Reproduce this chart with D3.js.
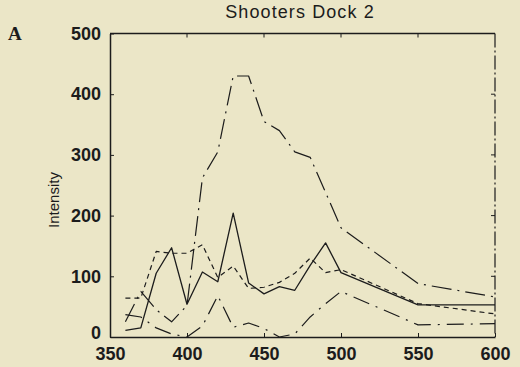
<!DOCTYPE html>
<html>
<head>
<meta charset="utf-8">
<script src="https://cdn.jsdelivr.net/npm/d3@7"></script>
<style>
  body { margin: 0; background: #ebe6c7; }
  svg { display: block; }
  .tick text { font-family: Arial, "Liberation Sans", sans-serif; font-size: 18px; font-weight: bold; fill: #1c1c1c; }
</style>
</head>
<body>
<svg id="chart" width="520" height="367"></svg>
<script>
// wavelengths (nm)
const wl = [360, 370, 380, 390, 400, 410, 420, 430, 440, 450, 460, 470, 480, 490, 500, 550, 600]

// series (null = no point there)
const solid    = [11, 15, 105, 147, 54, 107, 91, 204, 89, 71, 83, 77, 118, 155, 106, 53, 53]
const shortDash = [64, 64, 141, 138, 138, 152, 98, 117, 80, 82, 90, 105, 130, 106, 111, 55, 38]
const bigDashDot = [25, 75, 45, 25, 52, 262, 305, 430, 430, 355, 340, 305, 296, null, 180, 88, 66]
const lowDashDot = [37, 33, 15, 5, 0, 18, 68, 16, 23, 14, 0, 5, 33, 55, 75, 20, 22]

const xTicks = [350, 400, 450, 500, 550, 600]
const yTicks = [0, 100, 200, 300, 400, 500]

const svg = d3.select('#chart')
const mLeft = 110, mRight = 495, mTop = 33.5, mBottom = 337

const x = d3.scaleLinear().domain([350, 600]).range([mLeft, mRight])
const y = d3.scaleLinear().domain([0, 500]).range([mBottom, mTop])

const ink = '#1c1c1c'

// box
svg.append('line').attr('x1', mLeft).attr('x2', mRight).attr('y1', mTop).attr('y2', mTop)
    .attr('stroke', ink).attr('stroke-width', 1.3)
svg.append('line').attr('x1', mRight).attr('x2', mRight).attr('y1', mTop).attr('y2', mBottom)
    .attr('stroke', ink).attr('stroke-width', 1.2).attr('stroke-dasharray', '14,3,2,3')

// axes, ticks inward like the original
const xAxis = svg.append('g').attr('transform', `translate(0,${mBottom})`)
    .call(d3.axisBottom(x).tickValues(xTicks).tickSize(-4).tickPadding(10).tickSizeOuter(0))
const yAxis = svg.append('g').attr('transform', `translate(${mLeft},0)`)
    .call(d3.axisLeft(y).tickValues(yTicks).tickSize(-4).tickPadding(9).tickSizeOuter(0))
;[xAxis, yAxis].forEach(a => {
    a.select('.domain').attr('stroke', ink).attr('stroke-width', 1.5)
    a.selectAll('.tick line').attr('stroke', ink)
})
yAxis.selectAll('.tick text').filter(d => d === 0).attr('dy', '0.1em')

// top and right inner ticks
svg.append('g').selectAll('line').data(xTicks.slice(1, -1)).join('line')
    .attr('x1', d => x(d)).attr('x2', d => x(d)).attr('y1', mTop).attr('y2', mTop + 4)
    .attr('stroke', ink)
svg.append('g').selectAll('line').data(yTicks.slice(1, -1)).join('line')
    .attr('x1', mRight).attr('x2', mRight - 4).attr('y1', d => y(d)).attr('y2', d => y(d))
    .attr('stroke', ink)

const series = [
    { vals: bigDashDot, dash: '20,6,2,6', w: 1.2 },
    { vals: lowDashDot, dash: '17,7,2,7', w: 1.2 },
    { vals: shortDash, dash: '5,4', w: 1.2 },
    { vals: solid, dash: null, w: 1.3 }
]

const line = d3.line()
    .x(d => x(d[0]))
    .y(d => y(d[1]))

series.forEach(s => {
    const pts = wl.map((w, i) => [w, s.vals[i]]).filter(d => d[1] != null)
    svg.append('path')
        .attr('d', line(pts))
        .attr('fill', 'none')
        .attr('stroke', ink)
        .attr('stroke-width', s.w)
        .attr('stroke-linejoin', 'round')
        .attr('stroke-dasharray', s.dash)
})

// texts
svg.append('text').attr('x', 300).attr('y', 18).attr('text-anchor', 'middle')
    .attr('font-family', 'Arial, "Liberation Sans", sans-serif').attr('font-size', 18)
    .attr('letter-spacing', 1.1)
    .attr('fill', ink).text('Shooters Dock 2')

svg.append('text').attr('x', 8).attr('y', 40)
    .attr('font-family', '"Liberation Serif", "Times New Roman", serif').attr('font-size', 19)
    .attr('font-weight', 'bold').attr('fill', ink).text('A')

svg.append('text').attr('transform', 'translate(59,200) rotate(-90)').attr('text-anchor', 'middle')
    .attr('font-family', 'Arial, "Liberation Sans", sans-serif').attr('font-size', 15)
    .attr('fill', ink).text('Intensity')
</script>
</body>
</html>
